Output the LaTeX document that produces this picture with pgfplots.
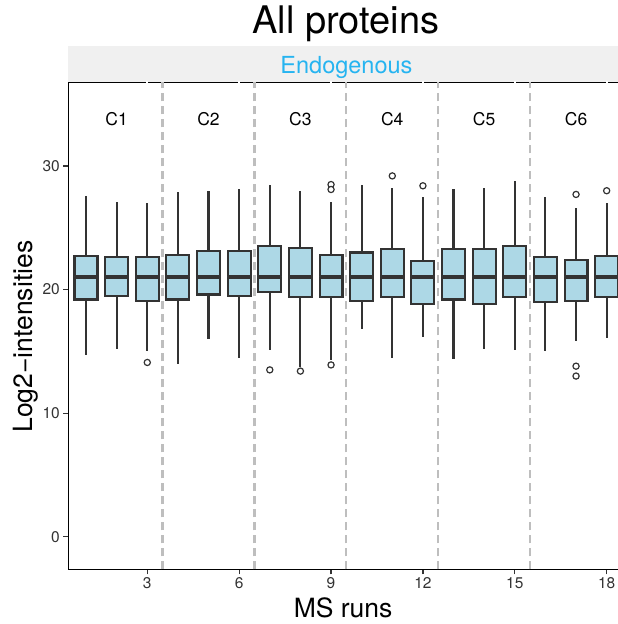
\documentclass[border=0pt]{standalone}
\usepackage{fontspec}
\setmainfont{TeX Gyre Heros}
\usepackage{pgfplots}
\pgfplotsset{compat=1.18}
\usepgfplotslibrary{statistics}

\definecolor{boxfill}{RGB}{173,216,230}
\definecolor{boxline}{RGB}{51,51,51}
\definecolor{vgrid}{RGB}{190,190,190}
\definecolor{stripbg}{RGB}{240,240,240}
\definecolor{striptext}{RGB}{38,180,240}

\pgfplotsset{
  msbox/.style={
    draw=boxline, fill=boxfill, line width=2.1pt,
    mark=*, mark size=3.1pt,
    mark options={draw=boxline, fill=white, line width=1.2pt, solid},
    boxplot/draw direction=y,
    boxplot/box extend=0.75,
    boxplot/whisker extend=0,
    boxplot/every median/.style={line width=3.6pt},
  },
  runsep/.style={vgrid, line width=2.2pt, dash pattern=on 8pt off 5pt},
}
\tikzset{condlabel/.style={anchor=base, font=\fontsize{17.5}{20}\selectfont}}

\begin{document}
\begin{tikzpicture}
\useasboundingbox (0,0) rectangle (618pt,624pt);
\begin{axis}[
  at={(68.3pt,54.7pt)}, anchor=south west,
  scale only axis, width=549.7pt, height=486.8pt,
  xmin=0.421, xmax=18.37, ymin=-2.64, ymax=36.76,
  axis lines*=left,
  axis line style={line width=1.3pt, black},
  xtick={3,6,...,18}, ytick={0,10,20,30},
  tick align=outside, major tick length=5pt,
  tick style={line width=1.2pt, black!80},
  ticklabel style={font=\fontsize{15.5}{18}\selectfont, text=black!80},
  /pgf/number format/assume math mode=true,
  clip=false,
  title={All proteins},
  every axis title/.style={at={(axis description cs:0.505,1)}, anchor=base,
    yshift=48.5pt, font=\fontsize{38}{44}\selectfont},
  xlabel={MS runs},
  every axis x label/.style={at={(axis description cs:0.5,0)}, anchor=base,
    yshift=-48pt, font=\fontsize{26.5}{30}\selectfont},
  ylabel={Log2−intensities},
  every axis y label/.style={at={([xshift=-35.3pt]axis description cs:0,0.478)},
    rotate=90, anchor=base, font=\fontsize{26.5}{30}\selectfont},
]

% facet strip and its top rule
\fill[stripbg] (rel axis cs:0,1) rectangle ([yshift=36.5pt]rel axis cs:1,1);
\node[anchor=base, text=striptext, font=\fontsize{23.5}{28}\selectfont]
  at ([yshift=9.2pt]axis description cs:0.506,1) {Endogenous};
\draw[black, line width=1.5pt] (rel axis cs:0,1) -- (rel axis cs:1,1);
\pgfplotsinvokeforeach{3,6,9,12,15,18}{
  \draw[white, line width=2pt] ([yshift=-1.5pt]axis cs:#1,36.76)
    -- ([yshift=1.5pt]axis cs:#1,36.76);
}

% condition separators
\addplot[runsep] coordinates {(3.5,-2.64) (3.5,36.76)};
\addplot[runsep] coordinates {(6.5,-2.64) (6.5,36.76)};
\addplot[runsep] coordinates {(9.5,-2.64) (9.5,36.76)};
\addplot[runsep] coordinates {(12.5,-2.64) (12.5,36.76)};
\addplot[runsep] coordinates {(15.5,-2.64) (15.5,36.76)};

% condition labels
\node[condlabel] at (axis cs:2,33.3) {C1};
\node[condlabel] at (axis cs:5,33.3) {C2};
\node[condlabel] at (axis cs:8,33.3) {C3};
\node[condlabel] at (axis cs:11,33.3) {C4};
\node[condlabel] at (axis cs:14,33.3) {C5};
\node[condlabel] at (axis cs:17,33.3) {C6};

% one box per MS run
\addplot[msbox, boxplot prepared={draw position=1, lower whisker=14.7,
  lower quartile=19.2, median=21.03, upper quartile=22.7, upper whisker=27.6}]
  coordinates {};
\addplot[msbox, boxplot prepared={draw position=2, lower whisker=15.2,
  lower quartile=19.5, median=21.03, upper quartile=22.6, upper whisker=27.1}]
  coordinates {};
\addplot[msbox, boxplot prepared={draw position=3, lower whisker=15.0,
  lower quartile=19.1, median=21.03, upper quartile=22.6, upper whisker=27.0}]
  table[row sep=\\, y index=0] {v\\ 14.1\\};
\addplot[msbox, boxplot prepared={draw position=4, lower whisker=14.0,
  lower quartile=19.2, median=21.03, upper quartile=22.8, upper whisker=27.9}]
  coordinates {};
\addplot[msbox, boxplot prepared={draw position=5, lower whisker=16.0,
  lower quartile=19.6, median=21.03, upper quartile=23.1, upper whisker=28.0}]
  coordinates {};
\addplot[msbox, boxplot prepared={draw position=6, lower whisker=14.5,
  lower quartile=19.5, median=21.03, upper quartile=23.1, upper whisker=28.1}]
  coordinates {};
\addplot[msbox, boxplot prepared={draw position=7, lower whisker=15.1,
  lower quartile=19.8, median=21.03, upper quartile=23.5, upper whisker=28.5}]
  table[row sep=\\, y index=0] {v\\ 13.5\\};
\addplot[msbox, boxplot prepared={draw position=8, lower whisker=13.7,
  lower quartile=19.4, median=21.03, upper quartile=23.4, upper whisker=28.0}]
  table[row sep=\\, y index=0] {v\\ 13.4\\};
\addplot[msbox, boxplot prepared={draw position=9, lower whisker=14.3,
  lower quartile=19.4, median=21.03, upper quartile=22.8, upper whisker=27.1}]
  table[row sep=\\, y index=0] {v\\ 28.5\\ 28.1\\ 13.9\\};
\addplot[msbox, boxplot prepared={draw position=10, lower whisker=16.8,
  lower quartile=19.1, median=21.03, upper quartile=23.0, upper whisker=28.5}]
  coordinates {};
\addplot[msbox, boxplot prepared={draw position=11, lower whisker=14.5,
  lower quartile=19.4, median=21.03, upper quartile=23.3, upper whisker=28.2}]
  table[row sep=\\, y index=0] {v\\ 29.2\\};
\addplot[msbox, boxplot prepared={draw position=12, lower whisker=16.2,
  lower quartile=18.8, median=21.03, upper quartile=22.3, upper whisker=27.5}]
  table[row sep=\\, y index=0] {v\\ 28.4\\};
\addplot[msbox, boxplot prepared={draw position=13, lower whisker=14.4,
  lower quartile=19.2, median=21.03, upper quartile=23.3, upper whisker=28.1}]
  coordinates {};
\addplot[msbox, boxplot prepared={draw position=14, lower whisker=15.2,
  lower quartile=18.8, median=21.03, upper quartile=23.3, upper whisker=28.2}]
  coordinates {};
\addplot[msbox, boxplot prepared={draw position=15, lower whisker=15.1,
  lower quartile=19.4, median=21.03, upper quartile=23.5, upper whisker=28.8}]
  coordinates {};
\addplot[msbox, boxplot prepared={draw position=16, lower whisker=15.0,
  lower quartile=19.0, median=21.03, upper quartile=22.6, upper whisker=27.5}]
  coordinates {};
\addplot[msbox, boxplot prepared={draw position=17, lower whisker=15.8,
  lower quartile=19.1, median=21.03, upper quartile=22.4, upper whisker=26.6}]
  table[row sep=\\, y index=0] {v\\ 27.7\\ 13.8\\ 13.0\\};
\addplot[msbox, boxplot prepared={draw position=18, lower whisker=16.1,
  lower quartile=19.4, median=21.03, upper quartile=22.7, upper whisker=27.0}]
  table[row sep=\\, y index=0] {v\\ 28.0\\};
\end{axis}
\end{tikzpicture}
\end{document}
